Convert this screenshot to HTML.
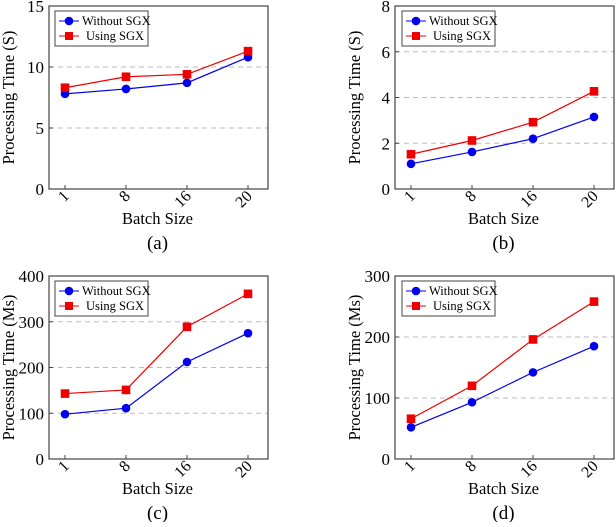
<!DOCTYPE html>
<html><head><meta charset="utf-8"><style>
body{margin:0;background:#fff;width:616px;height:522px;overflow:hidden;font-family:"Liberation Serif",serif}
</style></head><body>
<svg id="svg" width="616" height="522" xmlns="http://www.w3.org/2000/svg"></svg>
<script>
const categories=["1","8","16","20"];
const aBlue=[7.8,8.2,8.7,10.8], aRed=[8.3,9.2,9.4,11.3];
const bBlue=[1.1,1.62,2.2,3.15], bRed=[1.52,2.12,2.92,4.27];
const cBlue=[98,111,212,275], cRed=[143,151,289,361];
const dBlue=[52,93,142,185], dRed=[66,120,196,258];
const aTicks=[0,5,10,15], bTicks=[0,2,4,6,8], cTicks=[0,100,200,300,400], dTicks=[0,100,200,300];
const panels=[
 {id:"a",x:49,y:6,ymax:15,ticks:aTicks,blue:aBlue,red:aRed,yl:"Processing Time (S)"},
 {id:"b",x:395,y:6,ymax:8,ticks:bTicks,blue:bBlue,red:bRed,yl:"Processing Time (S)"},
 {id:"c",x:49,y:276,ymax:400,ticks:cTicks,blue:cBlue,red:cRed,yl:"Processing Time (Ms)"},
 {id:"d",x:395,y:276,ymax:300,ticks:dTicks,blue:dBlue,red:dRed,yl:"Processing Time (Ms)"}];
const NS="http://www.w3.org/2000/svg",svg=document.getElementById("svg");
function mk(t,a,p,txt){const e=document.createElementNS(NS,t);for(const k in a)e.setAttribute(k,a[k]);if(txt!==undefined)e.textContent=txt;(p||svg).appendChild(e);return e;}
const W=219,H=183;
panels.forEach(P=>{
 const g=mk("g",{});
 
 
 const xs=i=>P.x+16+61*i, ys=v=>P.y+H-v/P.ymax*H;
 P.ticks.forEach(t=>{
  if(t>0&&t<P.ymax){const l=mk("line",{x1:P.x,x2:P.x+W,y1:ys(t),y2:ys(t),stroke:"#bbb","stroke-dasharray":"5,4","stroke-width":1},g);
   }
  mk("line",{x1:P.x,x2:P.x+4,y1:ys(t),y2:ys(t),stroke:"#444"},g);
  const tl=mk("text",{x:P.x-5,y:ys(t)+6,"text-anchor":"end","font-size":"17"},g,String(t));
  
 });
 categories.forEach((c,i)=>{
  mk("line",{x1:xs(i),x2:xs(i),y1:P.y+H,y2:P.y+H-4,stroke:"#444"},g);
  const tl=mk("text",{x:0,y:0,"text-anchor":"end","font-size":"16",transform:`translate(${xs(i)+5},${P.y+H+8}) rotate(-45)`},g,c);
  
 });
 const ax=mk("rect",{x:P.x,y:P.y,width:W,height:H,fill:"none",stroke:"#444","stroke-width":1.2},g);
 
 [[P.blue,"#0000ee","circle","without-sgx"],[P.red,"#ee0000","square","using-sgx"]].forEach(([d,col,sh,nm])=>{
  const pl=mk("polyline",{points:d.map((v,i)=>xs(i)+","+ys(v)).join(" "),fill:"none",stroke:col,"stroke-width":1.2},g);
  
  d.forEach((v,i)=>{let m;
   if(sh=="circle")m=mk("circle",{cx:xs(i),cy:ys(v),r:4.3,fill:col},g);
   else m=mk("rect",{x:xs(i)-4.3,y:ys(v)-4.3,width:8.6,height:8.6,fill:col},g);
   });
 });
 const lg=mk("g",{},g);
 
 const lx=P.x+6+(P.id=="b"||P.id=="d"?1:0),ly=P.y+5;
 mk("rect",{x:lx,y:ly,width:93,height:35,fill:"#fff",stroke:"#444"},lg);
 mk("line",{x1:lx+4,x2:lx+24,y1:ly+10,y2:ly+10,stroke:"#0000ee"},lg);
 mk("circle",{cx:lx+14,cy:ly+10,r:4.3,fill:"#0000ee"},lg);
 mk("text",{x:lx+27,y:ly+14,"font-size":"12.5"},lg,"Without SGX");
 mk("line",{x1:lx+4,x2:lx+24,y1:ly+25,y2:ly+25,stroke:"#ee0000"},lg);
 mk("rect",{x:lx+10,y:ly+21,width:8,height:8,fill:"#ee0000"},lg);
 mk("text",{x:lx+31,y:ly+29,"font-size":"12.5"},lg,"Using SGX");
 const yl=mk("text",{x:0,y:0,"text-anchor":"middle","font-size":"16.5",transform:`translate(${P.x-35},${P.y+H/2}) rotate(-90)`},g,P.yl);
 
 const xl=mk("text",{x:P.x+W/2-1,y:P.y+H+35,"text-anchor":"middle","font-size":"16.5"},g,"Batch Size");
 
 const cap=mk("text",{x:P.x+W/2-1,y:P.y+H+60,"text-anchor":"middle","font-size":"19"},g,"("+P.id+")");
 
});
</script>
</body></html>
